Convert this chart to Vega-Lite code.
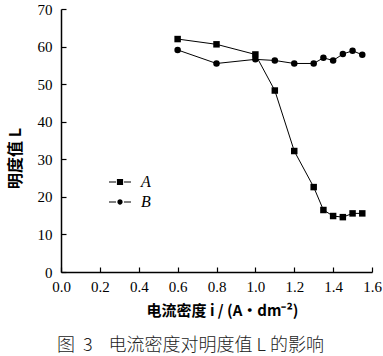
{
  "$schema": "https://vega.github.io/schema/vega-lite/v6.json",
  "width": 311,
  "height": 263,
  "autosize": {"type": "none"},
  "padding": {"left": 61, "top": 9, "right": 11, "bottom": 84},
  "background": "white",
  "title": {
    "text": "图\u00a0\u00a03\u00a0\u00a0\u00a0\u00a0电流密度对明度值 L 的影响",
    "orient": "bottom",
    "anchor": "middle",
    "frame": "group",
    "dx": -26,
    "font": "Noto Sans CJK SC",
    "fontSize": 18,
    "fontWeight": 300,
    "color": "#222",
    "offset": 19
  },
  "config": {
    "view": {"stroke": null},
    "axis": {
      "domainColor": "black",
      "domainWidth": 1.5,
      "tickColor": "black",
      "tickWidth": 1.2,
      "tickSize": -5,
      "grid": false,
      "labelFont": "Liberation Serif",
      "labelFontSize": 15,
      "labelColor": "black",
      "titleFont": "Noto Sans CJK SC",
      "titleFontSize": 15,
      "titleFontWeight": "bold",
      "titleColor": "black"
    }
  },
  "data": {
    "values": [
      {"series": "A", "i": 0.6, "L": 62.0},
      {"series": "A", "i": 0.8, "L": 60.6},
      {"series": "A", "i": 1.0, "L": 57.9},
      {"series": "A", "i": 1.1, "L": 48.3},
      {"series": "A", "i": 1.2, "L": 32.2},
      {"series": "A", "i": 1.3, "L": 22.6},
      {"series": "A", "i": 1.35, "L": 16.5},
      {"series": "A", "i": 1.4, "L": 14.9},
      {"series": "A", "i": 1.45, "L": 14.6},
      {"series": "A", "i": 1.5, "L": 15.6},
      {"series": "A", "i": 1.55, "L": 15.6},
      {"series": "B", "i": 0.6, "L": 59.1},
      {"series": "B", "i": 0.8, "L": 55.5},
      {"series": "B", "i": 1.0, "L": 56.6},
      {"series": "B", "i": 1.1, "L": 56.3},
      {"series": "B", "i": 1.2, "L": 55.5},
      {"series": "B", "i": 1.3, "L": 55.5},
      {"series": "B", "i": 1.35, "L": 57.0},
      {"series": "B", "i": 1.4, "L": 56.3},
      {"series": "B", "i": 1.45, "L": 58.0},
      {"series": "B", "i": 1.5, "L": 58.9},
      {"series": "B", "i": 1.55, "L": 57.8}
    ]
  },
  "encoding": {
    "x": {
      "field": "i",
      "type": "quantitative",
      "scale": {"domain": [0, 1.6], "nice": false},
      "axis": {
        "values": [0, 0.2, 0.4, 0.6, 0.8, 1.0, 1.2, 1.4, 1.6],
        "format": ".1f",
        "labelFlush": false,
        "labelPadding": 12,
        "title": "电流密度 i / (A·dm⁻²)",
        "titlePadding": 9,
        "titleX": 161
      }
    },
    "y": {
      "field": "L",
      "type": "quantitative",
      "scale": {"domain": [0, 70], "nice": false},
      "axis": {
        "values": [0, 10, 20, 30, 40, 50, 60, 70],
        "labelPadding": 14,
        "title": "明度值 L",
        "titleFontSize": 16,
        "titlePadding": 14,
        "titleY": 149
      }
    }
  },
  "resolve": {"scale": {"shape": "independent"}, "legend": {"shape": "independent"}},
  "layer": [
    {
      "mark": {"type": "line", "color": "black", "strokeWidth": 1},
      "encoding": {"detail": {"field": "series"}}
    },
    {
      "mark": {"type": "point", "filled": true, "color": "black", "opacity": 1, "size": 42},
      "encoding": {
        "shape": {
          "field": "series",
          "type": "nominal",
          "scale": {"domain": ["A", "B"], "range": ["square", "circle"]},
          "legend": null
        }
      }
    },
    {
      "mark": {"type": "point", "filled": true, "color": "black", "opacity": 1, "size": 0},
      "encoding": {
        "shape": {
          "field": "series",
          "type": "nominal",
          "scale": {
            "domain": ["A", "B"],
            "range": [
              "M-1,-0.05H-0.36V0.05H-1ZM0.36,-0.05H1V0.05H0.36ZM-0.28,-0.28H0.28V0.28H-0.28Z",
              "M-1,-0.05H-0.36V0.05H-1ZM0.36,-0.05H1V0.05H0.36ZM-0.24,0A0.24,0.24 0 1,0 0.24,0A0.24,0.24 0 1,0 -0.24,0Z"
            ]
          },
          "legend": {
            "title": null,
            "orient": "none",
            "legendX": 48,
            "legendY": 162,
            "labelFont": "Liberation Serif",
            "labelFontStyle": "italic",
            "labelFontSize": 16,
            "labelColor": "black",
            "labelOffset": 10,
            "symbolSize": 484,
            "symbolFillColor": "black",
            "symbolStrokeColor": "black",
            "symbolStrokeWidth": 0,
            "rowPadding": 1
          }
        }
      }
    }
  ]
}
